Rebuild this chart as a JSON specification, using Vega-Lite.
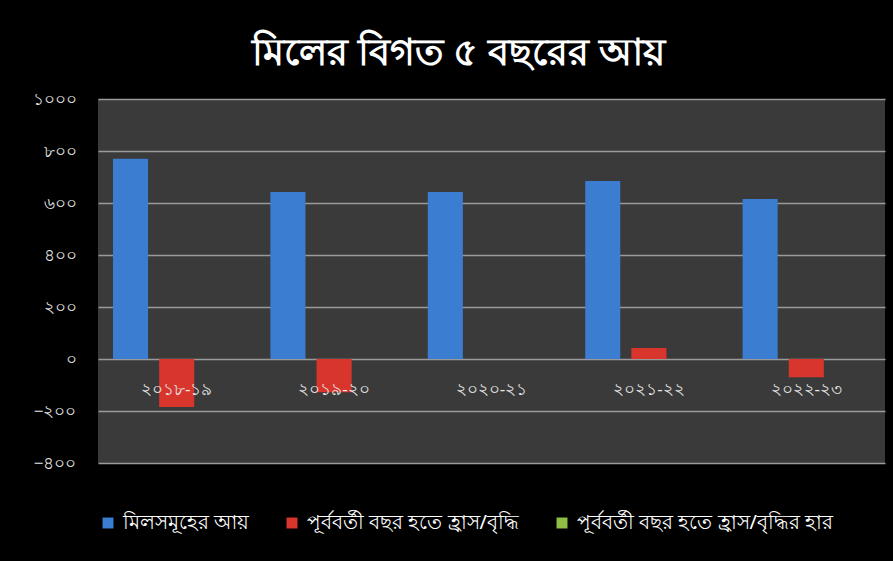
{
  "$schema": "https://vega.github.io/schema/vega-lite/v6.json",
  "autosize": "none",
  "width": 787,
  "height": 364,
  "padding": {"left": 98, "top": 99, "right": 8, "bottom": 98},
  "background": "#000000",
  "title": {
    "text": "মিলের বিগত ৫ বছরের  আয়",
    "color": "#ffffff",
    "fontSize": 38,
    "fontWeight": "bold",
    "font": "Noto Sans",
    "anchor": "middle",
    "dx": -33,
    "offset": 17
  },
  "data": {
    "values": [
      {"year": "২০১৮-১৯", "series": "মিলসমূহের  আয়", "value": 770},
      {"year": "২০১৮-১৯", "series": "পূর্ববর্তী বছর হতে  হ্রাস/বৃদ্ধি", "value": -185},
      {"year": "২০১৮-১৯", "series": "পূর্ববর্তী বছর হতে  হ্রাস/বৃদ্ধির হার", "value": -0.19},
      {"year": "২০১৯-২০", "series": "মিলসমূহের  আয়", "value": 642},
      {"year": "২০১৯-২০", "series": "পূর্ববর্তী বছর হতে  হ্রাস/বৃদ্ধি", "value": -128},
      {"year": "২০১৯-২০", "series": "পূর্ববর্তী বছর হতে  হ্রাস/বৃদ্ধির হার", "value": -0.17},
      {"year": "২০২০-২১", "series": "মিলসমূহের  আয়", "value": 642},
      {"year": "২০২০-২১", "series": "পূর্ববর্তী বছর হতে  হ্রাস/বৃদ্ধি", "value": 0},
      {"year": "২০২০-২১", "series": "পূর্ববর্তী বছর হতে  হ্রাস/বৃদ্ধির হার", "value": 0},
      {"year": "২০২১-২২", "series": "মিলসমূহের  আয়", "value": 685},
      {"year": "২০২১-২২", "series": "পূর্ববর্তী বছর হতে  হ্রাস/বৃদ্ধি", "value": 42},
      {"year": "২০২১-২২", "series": "পূর্ববর্তী বছর হতে  হ্রাস/বৃদ্ধির হার", "value": 0.07},
      {"year": "২০২২-২৩", "series": "মিলসমূহের  আয়", "value": 615},
      {"year": "২০২২-২৩", "series": "পূর্ববর্তী বছর হতে  হ্রাস/বৃদ্ধি", "value": -70},
      {"year": "২০২২-২৩", "series": "পূর্ববর্তী বছর হতে  হ্রাস/বৃদ্ধির হার", "value": -0.1}
    ]
  },
  "mark": {"type": "bar"},
  "encoding": {
    "x": {
      "field": "year",
      "type": "nominal",
      "sort": null,
      "title": null,
      "scale": {"paddingInner": 0.12, "paddingOuter": 0.06},
      "axis": {
        "offset": -103,
        "domain": false,
        "ticks": false,
        "labelAngle": 0,
        "labelPadding": 21,
        "labelColor": "#e6e6e6",
        "labelFontSize": 17,
        "labelFont": "Noto Sans",
        "grid": false,
        "zindex": 1
      }
    },
    "xOffset": {
      "field": "series",
      "type": "nominal",
      "sort": null,
      "scale": {"paddingInner": 0.24, "paddingOuter": 0.12}
    },
    "y": {
      "field": "value",
      "type": "quantitative",
      "title": null,
      "scale": {"domain": [-400, 1000], "nice": false},
      "axis": {
        "values": [-400, -200, 0, 200, 400, 600, 800, 1000],
        "format": "d",
        "labelExpr": "replace(replace(replace(replace(replace(replace(replace(replace(replace(replace(datum.label, regexp('0','g'), '০'), regexp('1','g'), '১'), regexp('2','g'), '২'), regexp('3','g'), '৩'), regexp('4','g'), '৪'), regexp('5','g'), '৫'), regexp('6','g'), '৬'), regexp('7','g'), '৭'), regexp('8','g'), '৮'), regexp('9','g'), '৯')",
        "domain": false,
        "ticks": false,
        "labelPadding": 22,
        "labelColor": "#e6e6e6",
        "labelFontSize": 17,
        "labelFont": "Noto Sans",
        "gridColor": "#9a9a9a",
        "gridWidth": 1.5
      }
    },
    "color": {
      "field": "series",
      "type": "nominal",
      "sort": null,
      "title": null,
      "scale": {"range": ["#3b7dd0", "#d8352d", "#8fbd45"]},
      "legend": {
        "orient": "bottom",
        "direction": "horizontal",
        "symbolType": "square",
        "symbolSize": 120,
        "symbolStrokeWidth": 0,
        "labelColor": "#ffffff",
        "labelFontSize": 20,
        "labelFont": "Noto Sans",
        "labelLimit": 500,
        "labelOffset": 5,
        "columnPadding": 27,
        "offset": 50
      }
    }
  },
  "config": {
    "view": {"fill": "#3a3a3a", "stroke": null},
    "axis": {"gridOpacity": 1}
  }
}
